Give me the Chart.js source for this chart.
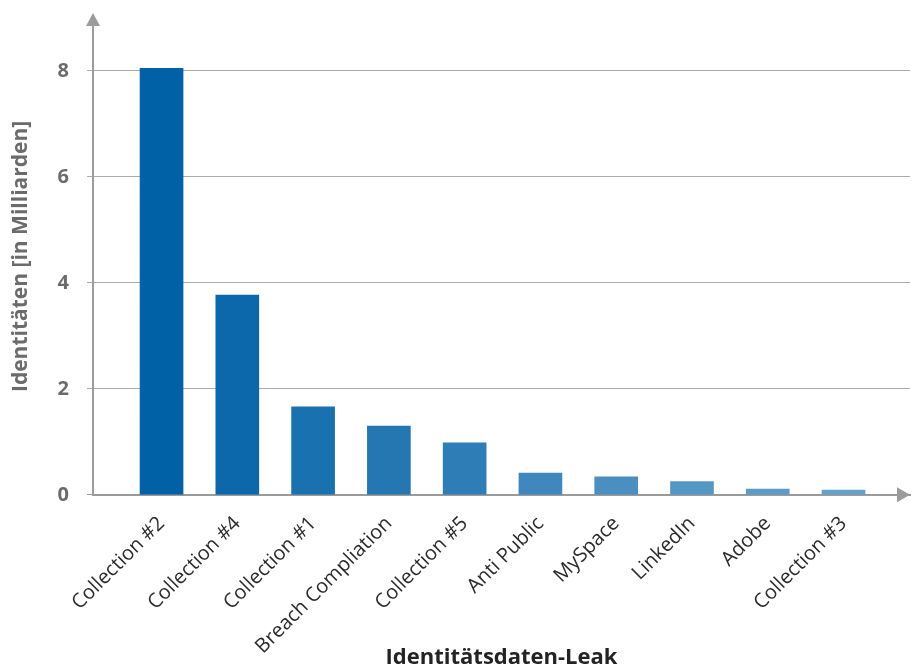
<!DOCTYPE html>
<html>
<head>
<meta charset="utf-8">
<script src="https://cdn.jsdelivr.net/npm/chart.js@4.4.1/dist/chart.umd.min.js"></script>
<style>
  html, body { margin: 0; padding: 0; background: #fff; }
  #wrap { width: 915px; height: 671px; }
</style>
</head>
<body>
<div id="wrap"><canvas id="myChart"></canvas></div>
<script>
// Identitätsdaten-Leaks, Werte in Milliarden
const leaks = [
  "Collection #2",
  "Collection #4",
  "Collection #1",
  "Breach Compliation",
  "Collection #5",
  "Anti Public",
  "MySpace",
  "LinkedIn",
  "Adobe",
  "Collection #3"
];
const identities = [8.05, 3.77, 1.66, 1.30, 0.98, 0.41, 0.34, 0.25, 0.11, 0.09];
const yTicks = [0, 2, 4, 6, 8];

const xTitle = "Identitätsdaten-Leak";
const yTitle = "Identitäten [in Milliarden]";

// styles
const barColors = [
  "#0061a7", "#0d68ab", "#1a71af", "#2577b2", "#2f7db6",
  "#3f87bc", "#4a8fc0", "#5496c4", "#5c9bc7", "#63a0ca"
];
const axisGrey = "#9b9b9b";
const font = "'Open Sans', 'Noto Sans', sans-serif";

const arrowPlugin = {
  id: "arrows",
  afterDraw(chart) {
    const ctx = chart.ctx;
    const area = chart.chartArea;
    const x0 = area.left;
    const y0 = chart.scales.y.getPixelForValue(0);
    ctx.save();
    ctx.fillStyle = axisGrey;
    // y arrow
    ctx.beginPath();
    ctx.moveTo(x0, area.top - 5);
    ctx.lineTo(x0 - 7, area.top + 8);
    ctx.lineTo(x0 + 7, area.top + 8);
    ctx.closePath();
    ctx.fill();
    // x arrow
    ctx.beginPath();
    ctx.moveTo(area.right, y0);
    ctx.lineTo(area.right - 13, y0 - 7.5);
    ctx.lineTo(area.right - 13, y0 + 7.5);
    ctx.closePath();
    ctx.fill();
    ctx.restore();
  }
};

const ctx = document.getElementById("myChart").getContext("2d");
const myChart = new Chart(ctx, {
  type: "bar",
  data: {
    datasets: [
      {
        label: yTitle,
        data: identities.map((v, i) => ({ x: i, y: v })),
        backgroundColor: barColors,
        borderWidth: 0,
        barThickness: 43
      }
    ]
  },
  options: {
    responsive: true,
    maintainAspectRatio: false,
    animation: false,
    layout: { padding: { top: 18, right: 5, left: 8, bottom: 0 } },
    plugins: {
      legend: { display: false },
      tooltip: { enabled: false }
    },
    scales: {
      x: {
        type: "linear",
        offset: false,
        bounds: "data",
        min: -0.904,
        max: 9.877,
        afterBuildTicks: (scale) => {
          scale.ticks = leaks.map((_, i) => ({ value: i }));
        },
        ticks: {
          autoSkip: false,
          minRotation: 45,
          maxRotation: 45,
          padding: 17,
          color: "#2b2b2b",
          font: { family: font, size: 20 },
          callback: (v) => leaks[v]
        },
        grid: { display: false, drawTicks: false },
        border: { display: true, color: axisGrey, width: 2 },
        title: {
          display: true,
          text: xTitle,
          color: "#232323",
          font: { family: font, size: 22, weight: "bold" },
          padding: { top: -31, bottom: 0 }
        }
      },
      y: {
        min: 0,
        max: 9,
        afterBuildTicks: (scale) => {
          scale.ticks = yTicks.map((v) => ({ value: v }));
        },
        afterFit: (scale) => {
          scale.paddingTop = 0;
        },
        ticks: {
          padding: 18,
          color: "#6b6b6b",
          font: { family: font, size: 20, weight: "bold" }
        },
        grid: {
          color: (c) => (c.tick && c.tick.value === 0 ? axisGrey : "#ababab"),
          lineWidth: 1,
          tickLength: 6
        },
        border: { display: true, color: axisGrey, width: 2 },
        title: {
          display: true,
          text: yTitle,
          color: "#6b6b6b",
          font: { family: font, size: 21, weight: "bold" },
          padding: { top: 0, bottom: 6.4 }
        }
      }
    }
  },
  plugins: [arrowPlugin]
});
</script>
</body>
</html>
